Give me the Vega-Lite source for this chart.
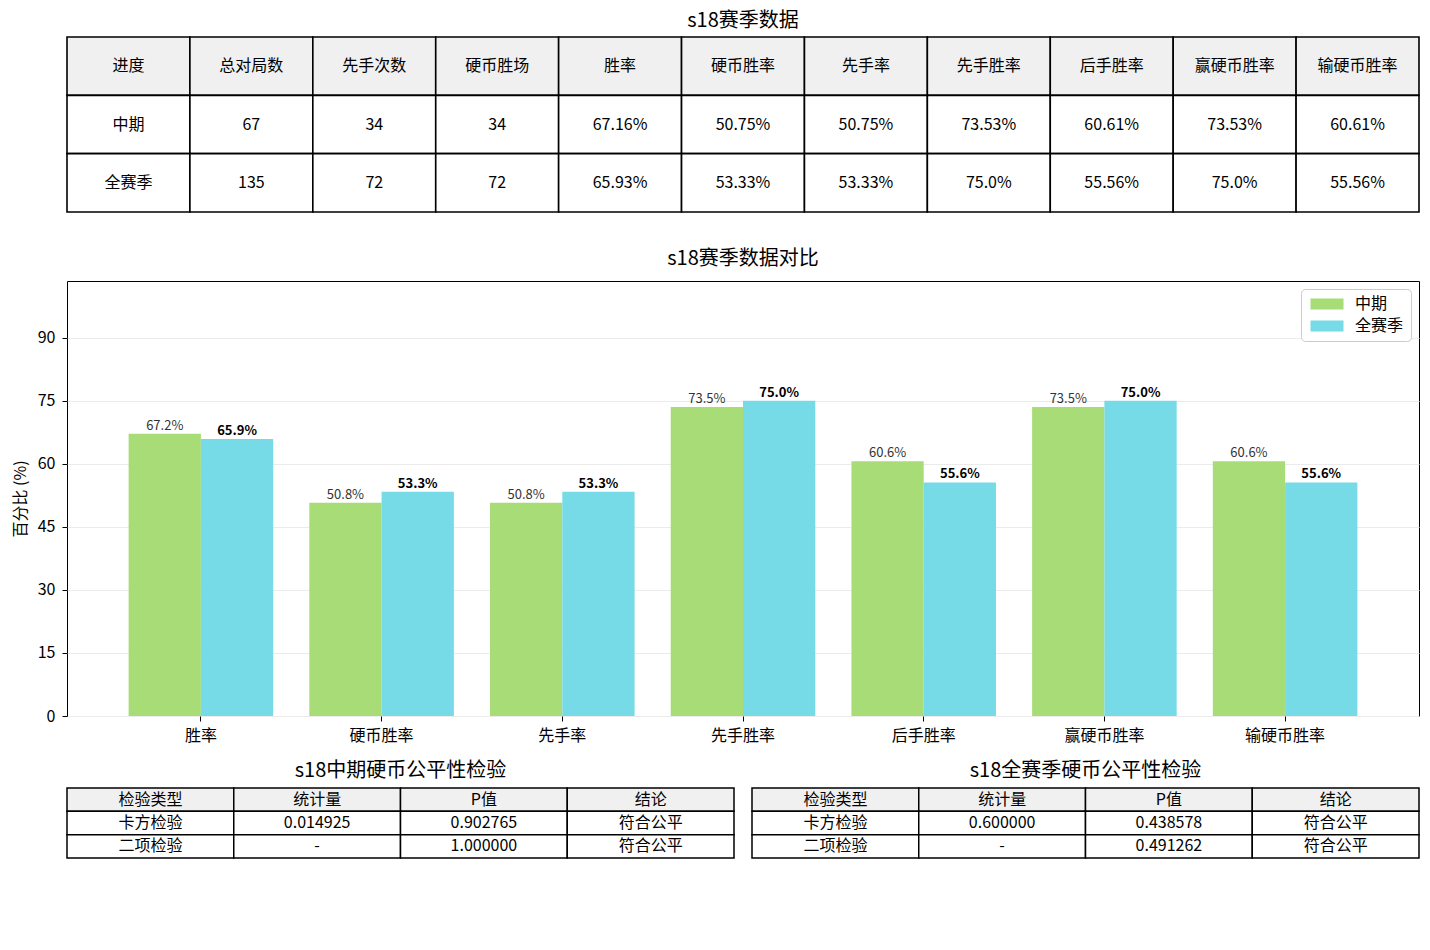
{
  "$schema": "https://vega.github.io/schema/vega-lite/v6.json",
  "background": "white",
  "padding": {"left": 11, "top": 11, "right": 5, "bottom": 5},
  "config": {
    "font": "Noto Sans CJK SC",
    "view": {"stroke": null},
    "title": {"fontSize": 20, "fontWeight": "normal", "color": "black", "anchor": "middle"},
    "axis": {"labelFont": "Noto Sans CJK SC", "titleFont": "Noto Sans CJK SC"}
  },
  "datasets": {
    "summary": [
      {"行": 0, "列": "进度", "值": "进度"},
      {"行": 0, "列": "总对局数", "值": "总对局数"},
      {"行": 0, "列": "先手次数", "值": "先手次数"},
      {"行": 0, "列": "硬币胜场", "值": "硬币胜场"},
      {"行": 0, "列": "胜率", "值": "胜率"},
      {"行": 0, "列": "硬币胜率", "值": "硬币胜率"},
      {"行": 0, "列": "先手率", "值": "先手率"},
      {"行": 0, "列": "先手胜率", "值": "先手胜率"},
      {"行": 0, "列": "后手胜率", "值": "后手胜率"},
      {"行": 0, "列": "赢硬币胜率", "值": "赢硬币胜率"},
      {"行": 0, "列": "输硬币胜率", "值": "输硬币胜率"},
      {"行": 1, "列": "进度", "值": "中期"},
      {"行": 1, "列": "总对局数", "值": "67"},
      {"行": 1, "列": "先手次数", "值": "34"},
      {"行": 1, "列": "硬币胜场", "值": "34"},
      {"行": 1, "列": "胜率", "值": "67.16%"},
      {"行": 1, "列": "硬币胜率", "值": "50.75%"},
      {"行": 1, "列": "先手率", "值": "50.75%"},
      {"行": 1, "列": "先手胜率", "值": "73.53%"},
      {"行": 1, "列": "后手胜率", "值": "60.61%"},
      {"行": 1, "列": "赢硬币胜率", "值": "73.53%"},
      {"行": 1, "列": "输硬币胜率", "值": "60.61%"},
      {"行": 2, "列": "进度", "值": "全赛季"},
      {"行": 2, "列": "总对局数", "值": "135"},
      {"行": 2, "列": "先手次数", "值": "72"},
      {"行": 2, "列": "硬币胜场", "值": "72"},
      {"行": 2, "列": "胜率", "值": "65.93%"},
      {"行": 2, "列": "硬币胜率", "值": "53.33%"},
      {"行": 2, "列": "先手率", "值": "53.33%"},
      {"行": 2, "列": "先手胜率", "值": "75.0%"},
      {"行": 2, "列": "后手胜率", "值": "55.56%"},
      {"行": 2, "列": "赢硬币胜率", "值": "75.0%"},
      {"行": 2, "列": "输硬币胜率", "值": "55.56%"}
    ],
    "bars": [
      {"指标": "胜率", "进度": "中期", "百分比": 67.16, "标签": "67.2%"},
      {"指标": "硬币胜率", "进度": "中期", "百分比": 50.75, "标签": "50.8%"},
      {"指标": "先手率", "进度": "中期", "百分比": 50.75, "标签": "50.8%"},
      {"指标": "先手胜率", "进度": "中期", "百分比": 73.53, "标签": "73.5%"},
      {"指标": "后手胜率", "进度": "中期", "百分比": 60.61, "标签": "60.6%"},
      {"指标": "赢硬币胜率", "进度": "中期", "百分比": 73.53, "标签": "73.5%"},
      {"指标": "输硬币胜率", "进度": "中期", "百分比": 60.61, "标签": "60.6%"},
      {"指标": "胜率", "进度": "全赛季", "百分比": 65.93, "标签": "65.9%"},
      {"指标": "硬币胜率", "进度": "全赛季", "百分比": 53.33, "标签": "53.3%"},
      {"指标": "先手率", "进度": "全赛季", "百分比": 53.33, "标签": "53.3%"},
      {"指标": "先手胜率", "进度": "全赛季", "百分比": 75.0, "标签": "75.0%"},
      {"指标": "后手胜率", "进度": "全赛季", "百分比": 55.56, "标签": "55.6%"},
      {"指标": "赢硬币胜率", "进度": "全赛季", "百分比": 75.0, "标签": "75.0%"},
      {"指标": "输硬币胜率", "进度": "全赛季", "百分比": 55.56, "标签": "55.6%"}
    ],
    "mid_test": [
      {"行": 0, "列": "检验类型", "值": "检验类型"},
      {"行": 0, "列": "统计量", "值": "统计量"},
      {"行": 0, "列": "P值", "值": "P值"},
      {"行": 0, "列": "结论", "值": "结论"},
      {"行": 1, "列": "检验类型", "值": "卡方检验"},
      {"行": 1, "列": "统计量", "值": "0.014925"},
      {"行": 1, "列": "P值", "值": "0.902765"},
      {"行": 1, "列": "结论", "值": "符合公平"},
      {"行": 2, "列": "检验类型", "值": "二项检验"},
      {"行": 2, "列": "统计量", "值": "-"},
      {"行": 2, "列": "P值", "值": "1.000000"},
      {"行": 2, "列": "结论", "值": "符合公平"}
    ],
    "full_test": [
      {"行": 0, "列": "检验类型", "值": "检验类型"},
      {"行": 0, "列": "统计量", "值": "统计量"},
      {"行": 0, "列": "P值", "值": "P值"},
      {"行": 0, "列": "结论", "值": "结论"},
      {"行": 1, "列": "检验类型", "值": "卡方检验"},
      {"行": 1, "列": "统计量", "值": "0.600000"},
      {"行": 1, "列": "P值", "值": "0.438578"},
      {"行": 1, "列": "结论", "值": "符合公平"},
      {"行": 2, "列": "检验类型", "值": "二项检验"},
      {"行": 2, "列": "统计量", "值": "-"},
      {"行": 2, "列": "P值", "值": "0.491262"},
      {"行": 2, "列": "结论", "值": "符合公平"}
    ]
  },
  "spacing": 35,
  "resolve": {"legend": {"color": "independent"}},
  "vconcat": [
    {
      "title": {"text": "s18赛季数据", "offset": 5},
      "width": 1352,
      "height": 175,
      "data": {"name": "summary"},
      "encoding": {
        "x": {
          "field": "列", "type": "nominal", "axis": null,
          "sort": ["进度", "总对局数", "先手次数", "硬币胜场", "胜率", "硬币胜率", "先手率", "先手胜率", "后手胜率", "赢硬币胜率", "输硬币胜率"],
          "scale": {"paddingInner": 0, "paddingOuter": 0}
        },
        "y": {"field": "行", "type": "ordinal", "axis": null, "scale": {"paddingInner": 0, "paddingOuter": 0}}
      },
      "layer": [
        {
          "mark": {"type": "rect", "stroke": "black", "strokeWidth": 1.6},
          "encoding": {
            "fill": {"condition": {"test": "datum['行'] == 0", "value": "#f0f0f0"}, "value": "white"}
          }
        },
        {
          "mark": {"type": "text", "fontSize": 16, "color": "black"},
          "encoding": {"text": {"field": "值"}}
        }
      ]
    },
    {
      "spacing": 17,
      "resolve": {"legend": {"color": "independent"}},
      "vconcat": [
        {
          "title": {"text": "s18赛季数据对比", "offset": 12},
          "width": 1352,
          "height": 435,
          "view": {"stroke": "black", "strokeWidth": 1},
          "data": {"name": "bars"},
          "encoding": {
            "x": {
              "field": "指标", "type": "nominal",
              "sort": ["胜率", "硬币胜率", "先手率", "先手胜率", "后手胜率", "赢硬币胜率", "输硬币胜率"],
              "scale": {"paddingInner": 0.2, "paddingOuter": 0.341},
              "axis": {"title": null, "labelAngle": 0, "labelFontSize": 16, "labelColor": "black", "tickColor": "black", "tickSize": 5, "labelPadding": 6, "domain": false}
            },
            "xOffset": {
              "field": "进度", "type": "nominal", "sort": ["中期", "全赛季"],
              "scale": {"paddingInner": 0, "paddingOuter": 0}
            },
            "y": {
              "field": "百分比", "type": "quantitative",
              "scale": {"domain": [0, 103.5], "nice": false},
              "axis": {
                "values": [0, 15, 30, 45, 60, 75, 90],
                "title": "百分比 (%)", "titleFontSize": 16, "titleFontWeight": "normal", "titleColor": "black", "titlePadding": 9,
                "labelFontSize": 16, "labelColor": "black", "tickColor": "black", "tickSize": 5, "labelPadding": 7,
                "domain": false, "gridColor": "#ebebeb", "gridWidth": 1
              }
            }
          },
          "layer": [
            {
              "mark": {"type": "bar"},
              "encoding": {
                "color": {
                  "field": "进度", "type": "nominal",
                  "scale": {"domain": ["中期", "全赛季"], "range": ["#a8dc76", "#76dbe7"]},
                  "legend": {
                    "title": null, "orient": "top-right", "offset": 8,
                    "strokeColor": "#cccccc", "fillColor": "white", "cornerRadius": 4, "padding": 7,
                    "labelFontSize": 16, "labelColor": "black", "labelOffset": 20,
                    "symbolType": "M-3,-1H3V1H-3Z", "symbolSize": 121, "symbolStrokeWidth": 0, "symbolOffset": 11,
                    "rowPadding": 6
                  }
                }
              }
            },
            {
              "transform": [{"filter": "datum['进度'] == '中期'"}],
              "mark": {"type": "text", "baseline": "bottom", "dy": -1, "fontSize": 13, "color": "#333333"},
              "encoding": {"text": {"field": "标签"}}
            },
            {
              "transform": [{"filter": "datum['进度'] == '全赛季'"}],
              "mark": {"type": "text", "baseline": "bottom", "dy": -1, "fontSize": 13, "fontWeight": "bold", "color": "black"},
              "encoding": {"text": {"field": "标签"}}
            }
          ]
        },
        {
          "spacing": 16,
          "hconcat": [
            {
              "title": {"text": "s18中期硬币公平性检验", "offset": 6},
              "width": 667,
              "height": 70,
              "data": {"name": "mid_test"},
              "encoding": {
                "x": {"field": "列", "type": "nominal", "axis": null, "sort": ["检验类型", "统计量", "P值", "结论"], "scale": {"paddingInner": 0, "paddingOuter": 0}},
                "y": {"field": "行", "type": "ordinal", "axis": null, "scale": {"paddingInner": 0, "paddingOuter": 0}}
              },
              "layer": [
                {
                  "mark": {"type": "rect", "stroke": "black", "strokeWidth": 1.5},
                  "encoding": {"fill": {"condition": {"test": "datum['行'] == 0", "value": "#f0f0f0"}, "value": "white"}}
                },
                {
                  "mark": {"type": "text", "fontSize": 16, "color": "black"},
                  "encoding": {"text": {"field": "值"}}
                }
              ]
            },
            {
              "title": {"text": "s18全赛季硬币公平性检验", "offset": 6},
              "width": 667,
              "height": 70,
              "data": {"name": "full_test"},
              "encoding": {
                "x": {"field": "列", "type": "nominal", "axis": null, "sort": ["检验类型", "统计量", "P值", "结论"], "scale": {"paddingInner": 0, "paddingOuter": 0}},
                "y": {"field": "行", "type": "ordinal", "axis": null, "scale": {"paddingInner": 0, "paddingOuter": 0}}
              },
              "layer": [
                {
                  "mark": {"type": "rect", "stroke": "black", "strokeWidth": 1.5},
                  "encoding": {"fill": {"condition": {"test": "datum['行'] == 0", "value": "#f0f0f0"}, "value": "white"}}
                },
                {
                  "mark": {"type": "text", "fontSize": 16, "color": "black"},
                  "encoding": {"text": {"field": "值"}}
                }
              ]
            }
          ]
        }
      ]
    }
  ]
}
